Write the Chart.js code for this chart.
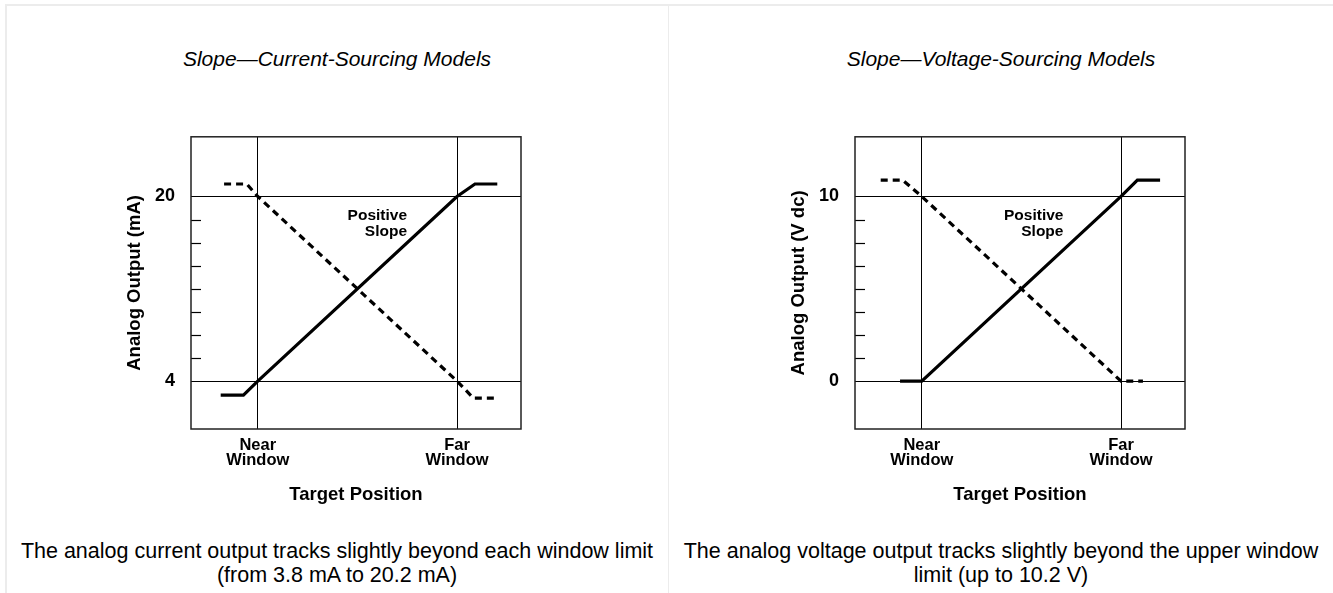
<!DOCTYPE html>
<html>
<head>
<meta charset="utf-8">
<script src="https://cdn.jsdelivr.net/npm/chart.js@4"></script>
<style>
  body { margin: 0; background: #fff; font-family: 'Liberation Sans', Arial, sans-serif; }
  .frame { position: absolute; left: 5px; top: 4px; width: 1326px; height: 600px;
           border-top: 2px solid #ececec; border-left: 2px solid #ececec; border-right: 2px solid #ececec; }
  .divider { position: absolute; left: 668px; top: 4px; width: 1px; height: 600px; background: #ececec; }
  .title { position: absolute; width: 662px; text-align: center; top: 47px;
           font-style: italic; font-size: 21px; color: #000; }
  .caption { position: absolute; width: 662px; text-align: center; top: 539px;
             font-size: 21.5px; line-height: 24px; color: #000; }
  canvas { position: absolute; }
</style>
</head>
<body>
<div class="frame"></div>
<div class="divider"></div>

<div class="title" style="left:6px">Slope—Current-Sourcing Models</div>
<div class="title" style="left:670px">Slope—Voltage-Sourcing Models</div>

<canvas id="currentChart" width="662" height="406" style="left:6px;top:110px"></canvas>
<canvas id="voltageChart" width="662" height="406" style="left:670px;top:110px"></canvas>

<div class="caption" style="left:6px">The analog current output tracks slightly beyond each window limit<br>(from 3.8 mA to 20.2 mA)</div>
<div class="caption" style="left:670px">The analog voltage output tracks slightly beyond the upper window<br>limit (up to 10.2 V)</div>

<script>
/* 데이터 */
const windowTicks = [0, 1];
const windowLabels = [['Near', 'Window'], ['Far', 'Window']];

// current-sourcing (mA)
const currentSolidX = [-0.186, -0.072, 0, 1, 1.09, 1.202];
const currentSolidY = [2.79, 2.79, 4, 20, 21.08, 21.08];
const currentDashX = [-0.169, -0.055, 0, 1, 1.082, 1.202];
const currentDashY = [21.08, 21.08, 20, 4, 2.53, 2.53];
const currentMajorTicks = [4, 20];
const currentMinorTicks = [6, 8, 10, 12, 14, 16, 18];

// voltage-sourcing (V dc)
const voltageSolidX = [-0.109, 0, 1, 1.082, 1.196];
const voltageSolidY = [0, 0, 10, 10.88, 10.88];
const voltageDashX = [-0.206, -0.095, 0, 1, 1.11];
const voltageDashY = [10.88, 10.88, 10, 0, 0];
const voltageMajorTicks = [0, 10];
const voltageMinorTicks = [1.25, 2.5, 3.75, 5, 6.25, 7.5, 8.75];

const boldFont = "'Liberation Sans', Arial, sans-serif";

function toPoints(xs, ys) {
  return xs.map(function (x, i) { return { x: x, y: ys[i] }; });
}

/* 박스 + 안쪽 눈금 + 'Positive Slope' 라벨 */
const panelDecor = {
  id: 'panelDecor',
  afterDatasetsDraw(chart, args, opts) {
    const ctx = chart.ctx;
    const a = chart.chartArea;
    const ys = chart.scales.y;
    const xs = chart.scales.x;
    ctx.save();
    ctx.strokeStyle = '#000';
    ctx.lineWidth = 1.2;
    opts.minor.forEach(function (v) {
      const py = Math.round(ys.getPixelForValue(v)) + 0.5;
      ctx.beginPath();
      ctx.moveTo(a.left, py);
      ctx.lineTo(a.left + 10, py);
      ctx.stroke();
    });
    ctx.strokeStyle = '#222';
    ctx.lineWidth = 1.5;
    ctx.strokeRect(a.left, a.top, a.right - a.left, a.bottom - a.top);

    ctx.fillStyle = '#000';
    ctx.font = 'bold 15.5px ' + boldFont;
    ctx.textAlign = 'right';
    ctx.textBaseline = 'middle';
    const lx = xs.getPixelForValue(opts.labelAt[0]);
    const ly = ys.getPixelForValue(opts.labelAt[1]);
    ctx.fillText('Positive', lx, ly - 3);
    ctx.fillText('Slope', lx, ly + 13);
    ctx.restore();
  }
};

function makeChart(id, cfg) {
  return new Chart(document.getElementById(id), {
    type: 'scatter',
    data: {
      datasets: [{
        data: toPoints(cfg.solidX, cfg.solidY),
        showLine: true,
        borderColor: '#000',
        borderWidth: 3.2,
        pointRadius: 0,
        fill: false
      }, {
        data: toPoints(cfg.dashX, cfg.dashY),
        showLine: true,
        borderColor: '#000',
        borderWidth: 3.2,
        borderDash: [7, 5],
        pointRadius: 0,
        fill: false
      }]
    },
    options: {
      responsive: false,
      animation: false,
      layout: { padding: { left: 110, top: 20, right: 147, bottom: 0 } },
      plugins: {
        legend: { display: false },
        tooltip: { enabled: false },
        panelDecor: { minor: cfg.minor, labelAt: cfg.labelAt }
      },
      scales: {
        x: {
          type: 'linear',
          min: -0.335,
          max: 1.321,
          afterBuildTicks: function (s) { s.ticks = windowTicks.map(function (v) { return { value: v }; }); },
          afterFit: function (s) { s.height = 87; },
          grid: { color: '#000', lineWidth: 1, drawTicks: false },
          border: { display: false },
          ticks: {
            padding: 9,
            color: '#000',
            font: { family: boldFont, size: 16.5, weight: 'bold', lineHeight: 0.92 },
            callback: function (v) { return windowLabels[windowTicks.indexOf(v)]; }
          },
          title: {
            display: true,
            text: 'Target Position',
            color: '#000',
            padding: { top: 0, bottom: 10 },
            font: { family: boldFont, size: 18.5, weight: 'bold' }
          }
        },
        y: {
          min: cfg.yMin,
          max: cfg.yMax,
          afterBuildTicks: function (s) { s.ticks = cfg.major.map(function (v) { return { value: v }; }); },
          afterFit: function (s) { s.width = 75; },
          grid: { color: '#000', lineWidth: 1, drawTicks: false },
          border: { display: false },
          ticks: {
            padding: 16,
            color: '#000',
            font: { family: boldFont, size: 18, weight: 'bold' }
          },
          title: {
            display: true,
            text: cfg.yTitle,
            color: '#000',
            padding: { top: 8, bottom: 0 },
            font: { family: boldFont, size: 18.5, weight: 'bold' }
          }
        }
      }
    },
    plugins: [panelDecor]
  });
}

makeChart('currentChart', {
  solidX: currentSolidX, solidY: currentSolidY,
  dashX: currentDashX, dashY: currentDashY,
  major: currentMajorTicks, minor: currentMinorTicks,
  yMin: -0.15, yMax: 25.17,
  yTitle: 'Analog Output (mA)',
  labelAt: [0.749, 18.05]
});

makeChart('voltageChart', {
  solidX: voltageSolidX, solidY: voltageSolidY,
  dashX: voltageDashX, dashY: voltageDashY,
  major: voltageMajorTicks, minor: voltageMinorTicks,
  yMin: -2.59, yMax: 13.23,
  yTitle: 'Analog Output (V dc)',
  labelAt: [0.711, 8.78]
});
</script>
</body>
</html>
